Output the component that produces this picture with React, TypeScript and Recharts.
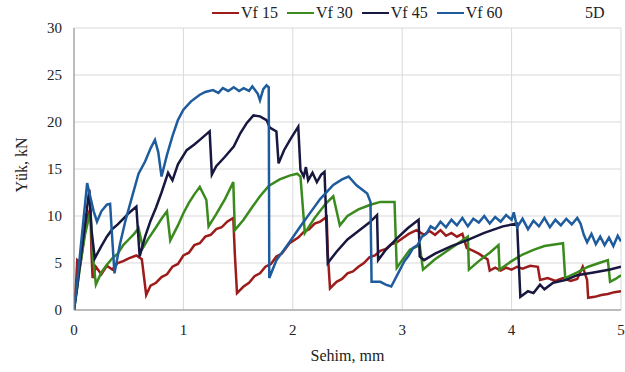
import React from 'react';
import { LineChart, Line, XAxis, YAxis, CartesianGrid } from 'recharts';

type P = { x: number; y: number };
const pts = (a: number[][]): P[] => a.map(([x, y]) => ({ x, y }));

const xTicks = [0, 1, 2, 3, 4, 5];
const yTicks = [0, 5, 10, 15, 20, 25, 30];
const seriesNames = ['Vf 15', 'Vf 30', 'Vf 45', 'Vf 60'];
const seriesColors = ['#9C1C1C', '#3A8A1E', '#17173F', '#1E5C9E'];
const panelTag = '5D';

const vf15 = pts([
  [0, 0], [0.02, 3.0], [0.03, 5.3], [0.06, 5.0], [0.09, 7.5], [0.12, 9.8], [0.15, 10.8], [0.16, 6.0], [0.17, 3.4],
  [0.2, 4.6], [0.25, 3.8], [0.3, 4.7], [0.35, 4.3], [0.4, 5.0], [0.45, 5.2], [0.5, 5.5], [0.57, 5.8], [0.62, 5.4],
  [0.66, 1.6], [0.7, 2.6], [0.75, 2.9], [0.8, 3.5], [0.85, 3.8], [0.9, 4.6], [0.95, 4.9], [1.0, 5.8], [1.05, 6.1],
  [1.1, 6.9], [1.15, 7.1], [1.2, 7.8], [1.25, 8.0], [1.3, 8.6], [1.35, 8.8], [1.4, 9.4], [1.456, 9.8], [1.47, 6.0],
  [1.49, 1.8], [1.55, 2.5], [1.6, 2.9], [1.65, 3.6], [1.7, 3.9], [1.75, 4.6], [1.8, 4.9], [1.85, 5.7], [1.9, 6.0],
  [1.97, 7.1], [2.05, 7.7], [2.1, 8.3], [2.15, 8.6], [2.2, 9.2], [2.25, 9.4], [2.31, 9.9], [2.32, 6.0], [2.34, 2.3],
  [2.4, 3.0], [2.45, 3.3], [2.5, 3.9], [2.55, 4.1], [2.6, 4.6], [2.65, 5.0], [2.7, 5.6], [2.75, 5.8], [2.8, 6.3],
  [2.85, 6.5], [2.9, 7.0], [2.95, 7.2], [3.0, 7.6], [3.06, 8.1], [3.13, 8.5], [3.2, 8.0], [3.25, 8.4], [3.3, 8.0],
  [3.35, 8.5], [3.4, 7.9], [3.45, 8.2], [3.5, 7.8], [3.55, 8.1], [3.59, 6.6], [3.65, 6.3], [3.7, 6.0], [3.75, 5.6],
  [3.78, 5.4], [3.8, 4.2], [3.85, 4.5], [3.9, 4.2], [3.95, 4.5], [4.0, 4.3], [4.05, 4.6], [4.1, 4.4], [4.17, 4.7],
  [4.24, 4.6], [4.26, 3.2], [4.33, 3.4], [4.4, 3.1], [4.47, 3.4], [4.54, 3.1], [4.6, 3.3], [4.65, 4.6], [4.69, 3.2],
  [4.7, 1.3], [4.76, 1.4], [4.82, 1.6], [4.88, 1.7], [4.94, 1.9], [5.0, 2.0],
]);

const vf30 = pts([
  [0, 0], [0.03, 2.5], [0.06, 5.0], [0.1, 8.0], [0.15, 10.5], [0.17, 6.0], [0.2, 2.7], [0.25, 4.0], [0.3, 4.8],
  [0.35, 5.5], [0.4, 6.0], [0.45, 6.9], [0.5, 7.5], [0.55, 8.1], [0.59, 8.7], [0.63, 6.6], [0.68, 7.6], [0.75, 8.8],
  [0.8, 9.7], [0.85, 10.5], [0.88, 7.4], [0.95, 9.0], [1.0, 10.3], [1.05, 11.4], [1.1, 12.3], [1.15, 13.1],
  [1.21, 11.7], [1.23, 8.9], [1.3, 10.2], [1.38, 11.8], [1.456, 13.6], [1.47, 8.5], [1.55, 9.6], [1.62, 10.8],
  [1.7, 12.1], [1.78, 13.2], [1.88, 13.9], [1.97, 14.3], [2.04, 14.5], [2.07, 14.2], [2.11, 8.2], [2.2, 9.8],
  [2.3, 11.3], [2.37, 12.1], [2.43, 9.0], [2.5, 10.0], [2.6, 10.7], [2.71, 11.2], [2.8, 11.5], [2.93, 11.5],
  [2.95, 4.5], [3.0, 5.3], [3.07, 6.4], [3.16, 6.9], [3.19, 4.3], [3.3, 5.4], [3.45, 6.6], [3.6, 7.8], [3.61, 4.3],
  [3.7, 5.2], [3.8, 6.1], [3.88, 6.9], [3.89, 4.3], [4.0, 5.2], [4.1, 5.9], [4.2, 6.4], [4.3, 6.8], [4.47, 7.1],
  [4.49, 3.4], [4.6, 4.0], [4.7, 4.6], [4.8, 5.0], [4.88, 5.3], [4.9, 3.0], [4.95, 3.3], [5.0, 3.7],
]);

const vf45 = pts([
  [0, 0], [0.03, 2.5], [0.06, 5.5], [0.1, 9.0], [0.14, 12.8], [0.16, 8.5], [0.19, 5.5], [0.25, 6.8], [0.3, 7.8],
  [0.35, 8.6], [0.4, 9.1], [0.45, 9.7], [0.5, 10.3], [0.57, 11.0], [0.6, 5.7], [0.65, 7.8], [0.7, 9.5], [0.75, 10.9],
  [0.8, 12.5], [0.86, 14.6], [0.9, 13.8], [0.95, 15.5], [1.03, 17.0], [1.1, 17.6], [1.15, 18.1], [1.2, 18.6],
  [1.24, 19.0], [1.26, 14.4], [1.3, 15.3], [1.38, 16.3], [1.46, 17.4], [1.52, 18.8], [1.58, 19.9], [1.64, 20.7],
  [1.7, 20.6], [1.76, 20.2], [1.79, 19.4], [1.85, 19.0], [1.87, 15.6], [1.92, 17.0], [1.98, 18.2], [2.05, 19.5],
  [2.07, 14.9], [2.1, 14.2], [2.12, 15.2], [2.14, 13.8], [2.18, 14.6], [2.22, 13.6], [2.26, 14.4], [2.29, 14.7],
  [2.32, 5.0], [2.4, 6.2], [2.5, 7.5], [2.6, 8.4], [2.7, 9.3], [2.77, 10.1], [2.78, 5.3], [2.85, 6.4], [2.95, 7.6],
  [3.05, 8.7], [3.15, 9.6], [3.16, 5.7], [3.2, 5.3], [3.3, 6.0], [3.45, 6.8], [3.59, 7.4], [3.75, 8.2], [3.92, 8.9],
  [4.05, 9.2], [4.08, 1.4], [4.15, 2.0], [4.2, 1.8], [4.26, 2.7], [4.3, 2.2], [4.38, 2.9], [4.5, 3.2], [4.6, 3.7],
  [4.75, 4.0], [4.9, 4.3], [5.0, 4.6],
]);

const vf60 = pts([
  [0, 0], [0.03, 3.0], [0.06, 6.5], [0.09, 10.0], [0.12, 13.5], [0.15, 12.0], [0.18, 10.5], [0.21, 9.4], [0.25, 10.5],
  [0.3, 11.2], [0.33, 11.3], [0.35, 7.5], [0.37, 3.9], [0.42, 7.0], [0.47, 9.5], [0.53, 12.0], [0.59, 14.5],
  [0.65, 15.8], [0.7, 17.2], [0.74, 18.1], [0.77, 16.8], [0.8, 14.2], [0.85, 16.5], [0.9, 18.5], [0.95, 20.2],
  [1.0, 21.3], [1.07, 22.2], [1.15, 22.9], [1.2, 23.2], [1.27, 23.4], [1.32, 23.1], [1.36, 23.6], [1.41, 23.3],
  [1.46, 23.7], [1.51, 23.3], [1.55, 23.6], [1.6, 23.3], [1.63, 23.8], [1.68, 23.0], [1.7, 22.3], [1.73, 23.5],
  [1.76, 23.9], [1.78, 23.7], [1.785, 3.4], [1.85, 5.3], [1.95, 6.9], [2.07, 8.9], [2.15, 10.2], [2.25, 11.8],
  [2.37, 13.3], [2.45, 13.9], [2.51, 14.2], [2.58, 13.3], [2.68, 12.4], [2.71, 11.5], [2.72, 3.0], [2.8, 3.0],
  [2.85, 2.7], [2.9, 2.5], [2.98, 4.3], [3.02, 5.2], [3.06, 5.8], [3.1, 6.6], [3.14, 6.9], [3.18, 7.8], [3.22, 8.1],
  [3.26, 8.9], [3.3, 8.6], [3.35, 9.4], [3.4, 8.8], [3.45, 9.6], [3.5, 9.0], [3.55, 9.8], [3.6, 8.9], [3.65, 9.7],
  [3.7, 9.3], [3.75, 10.0], [3.8, 9.2], [3.85, 9.9], [3.9, 9.4], [3.95, 10.1], [4.0, 9.6], [4.02, 10.4], [4.05, 8.8],
  [4.1, 9.7], [4.15, 8.6], [4.2, 9.5], [4.25, 8.9], [4.3, 9.8], [4.35, 8.8], [4.4, 9.6], [4.45, 9.0], [4.5, 9.7],
  [4.55, 9.1], [4.6, 9.8], [4.63, 9.2], [4.66, 8.0], [4.69, 7.2], [4.73, 8.1], [4.77, 7.0], [4.81, 7.8], [4.85, 6.9],
  [4.89, 7.7], [4.93, 6.8], [4.97, 7.9], [5.0, 7.3],
]);

const seriesData = [vf15, vf30, vf45, vf60];

const FONT = "'Liberation Serif', 'Times New Roman', Times, 'DejaVu Serif', 'Noto Serif', serif";

const YLabel = (props: any) => {
  const vb = props.viewBox || {};
  const cx = vb.x + 21;
  const cy = vb.y + vb.height / 2 - 4;
  return (
    <text x={cx} y={cy} transform={`rotate(-90, ${cx}, ${cy})`} textAnchor="middle" dominantBaseline="central"
      style={{ fontFamily: FONT }} fontSize={16} fill="#222">Yük, kN</text>
  );
};

const XLabel = (props: any) => {
  const vb = props.viewBox || {};
  const cx = vb.x + vb.width / 2;
  return (
    <text x={cx} y={355} textAnchor="middle" dominantBaseline="central" style={{ fontFamily: FONT }} fontSize={16} fill="#222">Sehim, mm</text>
  );
};

export default function App() {
  return (
    <div style={{ position: 'absolute', left: 0, top: 0, width: 625, height: 372, background: '#fff', fontFamily: FONT }}>
      <div style={{ position: 'absolute', left: 212, top: 4, display: 'flex', alignItems: 'center', fontFamily: FONT, fontSize: 16, color: '#222', whiteSpace: 'nowrap' }}>
        {seriesNames.map((n, i) => (
          <div key={n} style={{ display: 'flex', alignItems: 'center', marginRight: 9 }}>
            <div style={{ width: 27, height: 2, background: seriesColors[i], marginRight: 2 }} />
            <span>{n}</span>
          </div>
        ))}
      </div>
      <div style={{ position: 'absolute', left: 585, top: 4, fontFamily: FONT, fontSize: 16, color: '#222' }}>{panelTag}</div>
      <LineChart width={625} height={372} margin={{ top: 28, right: 4, bottom: 32, left: 0 }} style={{ fontFamily: FONT }}>
        <CartesianGrid stroke="#D9D9D9" strokeWidth={1} />
        <XAxis type="number" dataKey="x" domain={[0, 5]} ticks={xTicks} allowDataOverflow
          tickLine={false} axisLine={{ stroke: '#8C8C8C' }} height={30} tickMargin={8}
          tick={{ fontSize: 15, fill: '#222', style: { fontFamily: FONT } }} label={<XLabel />} />
        <YAxis type="number" domain={[0, 30]} ticks={yTicks} width={74} allowDataOverflow
          tickLine={false} axisLine={{ stroke: '#8C8C8C' }} tickMargin={6}
          tick={{ fontSize: 15, fill: '#222', style: { fontFamily: FONT } }} label={<YLabel />} />
        {seriesData.map((d, i) => (
          <Line key={seriesNames[i]} data={d} dataKey="y" name={seriesNames[i]} type="linear" stroke={seriesColors[i]}
            strokeWidth={2.5} dot={false} isAnimationActive={false} />
        ))}
      </LineChart>
    </div>
  );
}
